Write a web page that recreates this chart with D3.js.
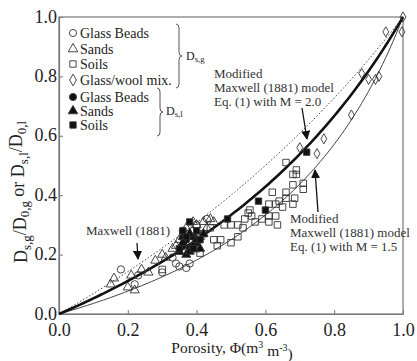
<!DOCTYPE html>
<html>
<head>
<meta charset="utf-8">
<script src="https://cdn.jsdelivr.net/npm/d3@7"></script>
<style>
  body { margin: 0; background: #fff; }
</style>
</head>
<body>
<div id="chart"></div>
<script>
// ---- data ----
var xTicks = [0, 0.2, 0.4, 0.6, 0.8, 1.0];
var yTicks = [0, 0.2, 0.4, 0.6, 0.8, 1.0];

// open symbols = Ds,g
var beadsGasPhi = [0.18, 0.22, 0.30, 0.34, 0.35, 0.37, 0.38, 0.36, 0.39, 0.43, 0.40, 0.23, 0.33];
var beadsGasD   = [0.15, 0.10, 0.14, 0.17, 0.16, 0.155, 0.17, 0.28, 0.28, 0.32, 0.30, 0.13, 0.19];

var sandsGasPhi = [0.15, 0.16, 0.20, 0.21, 0.22, 0.26, 0.28, 0.30, 0.31, 0.33, 0.35, 0.37, 0.39, 0.40, 0.42, 0.44, 0.45, 0.38, 0.36, 0.41, 0.34, 0.43, 0.24];
var sandsGasD   = [0.10, 0.12, 0.09, 0.13, 0.08, 0.14, 0.18, 0.20, 0.19, 0.22, 0.25, 0.29, 0.31, 0.30, 0.31, 0.32, 0.31, 0.27, 0.21, 0.26, 0.23, 0.29, 0.15];

var soilsGasPhi = [0.66, 0.68, 0.69, 0.69, 0.68, 0.71, 0.71, 0.62, 0.66, 0.66, 0.685, 0.64, 0.63, 0.68, 0.61, 0.65, 0.555, 0.54, 0.56, 0.57, 0.59, 0.61, 0.52, 0.535, 0.48, 0.50, 0.61, 0.635, 0.52, 0.46, 0.63, 0.50, 0.55, 0.47, 0.41, 0.30, 0.38, 0.40, 0.42, 0.44, 0.36, 0.45];
var soilsGasD   = [0.51, 0.47, 0.485, 0.47, 0.435, 0.44, 0.42, 0.41, 0.41, 0.39, 0.39, 0.38, 0.37, 0.37, 0.37, 0.36, 0.35, 0.32, 0.33, 0.31, 0.32, 0.33, 0.30, 0.29, 0.30, 0.30, 0.31, 0.30, 0.26, 0.23, 0.33, 0.24, 0.34, 0.25, 0.205, 0.15, 0.24, 0.22, 0.27, 0.29, 0.26, 0.25];

var woolGasPhi = [0.70, 0.75, 0.77, 0.85, 0.88, 0.90, 0.92, 0.93, 0.95, 0.997, 1.0];
var woolGasD   = [0.56, 0.54, 0.59, 0.67, 0.81, 0.79, 0.79, 0.80, 0.95, 0.95, 1.0];

// filled symbols = Ds,l
var beadsLiqPhi = [0.37, 0.38, 0.39, 0.36, 0.40];
var beadsLiqD   = [0.25, 0.22, 0.26, 0.23, 0.24];

var sandsLiqPhi = [0.35, 0.36, 0.37, 0.38, 0.39, 0.40, 0.41, 0.38, 0.36, 0.42];
var sandsLiqD   = [0.21, 0.24, 0.20, 0.27, 0.23, 0.25, 0.22, 0.21, 0.26, 0.27];

var soilsLiqPhi = [0.38, 0.35, 0.72, 0.58, 0.60, 0.49, 0.37, 0.40, 0.39, 0.41, 0.36];
var soilsLiqD   = [0.31, 0.22, 0.545, 0.38, 0.35, 0.32, 0.26, 0.28, 0.22, 0.25, 0.28];

// ---- layout ----
var W = 417, H = 361;
var FONT = "'Liberation Serif'";
var margin = { top: 17, right: 14, bottom: 47, left: 59 };
var width = W - margin.left - margin.right,
    height = H - margin.top - margin.bottom;

var root = d3.select('#chart').append('svg')
  .attr('width', W).attr('height', H);
var svg = root.append('g')
  .attr('transform', 'translate(' + margin.left + ',' + margin.top + ')');

var x = d3.scaleLinear().domain([0, 1]).range([0, width]);
var y = d3.scaleLinear().domain([0, 1]).range([height, 0]);

// frame
svg.append('rect')
  .attr('width', width).attr('height', height)
  .attr('fill', 'none').attr('stroke', '#777').attr('stroke-width', 1.2);

// axes, inward ticks
var xAxis = svg.append('g')
  .attr('transform', 'translate(0,' + height + ')')
  .call(d3.axisBottom(x).tickValues(xTicks).tickFormat(d3.format('.1f')).tickSizeInner(-4).tickSizeOuter(0).tickPadding(9));
var yAxis = svg.append('g')
  .call(d3.axisLeft(y).tickValues(yTicks).tickFormat(d3.format('.1f')).tickSizeInner(-4).tickSizeOuter(0).tickPadding(2));
[xAxis, yAxis].forEach(function (a) {
  a.attr('font-family', null).attr('font-size', null);
  a.select('.domain').attr('stroke', '#777').attr('stroke-width', 1.2);
  a.selectAll('.tick line').attr('stroke', '#777');
  a.selectAll('.tick text').attr('fill', '#222').style('font-family', FONT).style('font-size', '18px');
});
yAxis.selectAll('.tick text').attr('dy', '0.28em');

// model curves
var phiGrid = d3.range(0, 1.0001, 0.01);
var maxwell = function (p) { return 2 * p / (3 - p); };
var modM = function (M) { return function (p) { return (M - 1) * p / (M - p); }; };

var line = function (f) {
  return d3.line().x(function (p) { return x(p); }).y(function (p) { return y(f(p)); })(phiGrid);
};
svg.append('path').attr('d', line(maxwell))
  .attr('fill', 'none').attr('stroke', '#444').attr('stroke-width', 1).attr('stroke-dasharray', '1.5,2');
svg.append('path').attr('d', line(modM(1.5)))
  .attr('fill', 'none').attr('stroke', '#444').attr('stroke-width', 1);
svg.append('path').attr('d', line(modM(2.0)))
  .attr('fill', 'none').attr('stroke', '#111').attr('stroke-width', 2.6);

// points
function zip(px, py) { return px.map(function (p, i) { return [p, py[i]]; }); }
var series = [
  { pts: zip(soilsGasPhi, soilsGasD), sym: d3.symbolSquare, size: 42, fill: 'none' },
  { pts: zip(beadsGasPhi, beadsGasD), sym: d3.symbolCircle, size: 42, fill: 'none' },
  { pts: zip(sandsGasPhi, sandsGasD), sym: d3.symbolTriangle, size: 36, fill: 'none' },
  { pts: zip(woolGasPhi, woolGasD), sym: d3.symbolDiamond, size: 30, fill: 'none' },
  { pts: zip(beadsLiqPhi, beadsLiqD), sym: d3.symbolCircle, size: 40, fill: '#111' },
  { pts: zip(sandsLiqPhi, sandsLiqD), sym: d3.symbolTriangle, size: 36, fill: '#111' },
  { pts: zip(soilsLiqPhi, soilsLiqD), sym: d3.symbolSquare, size: 40, fill: '#111' }
];
series.forEach(function (s) {
  svg.selectAll(null).data(s.pts).enter().append('path')
    .attr('transform', function (d) { return 'translate(' + x(d[0]) + ',' + y(d[1]) + ')'; })
    .attr('d', d3.symbol().type(s.sym).size(s.size))
    .attr('fill', s.fill).attr('stroke', '#333').attr('stroke-width', 0.9);
});

// helper for serif text
function txt(xp, yp, size) {
  return root.append('text').attr('x', xp).attr('y', yp)
    .style('font-family', FONT).style('font-size', size + 'px').attr('fill', '#222');
}

// legend
var legend = [
  { t: 'Glass Beads', sym: d3.symbolCircle, fill: 'none', y: 33 },
  { t: 'Sands', sym: d3.symbolTriangle, fill: 'none', y: 49 },
  { t: 'Soils', sym: d3.symbolSquare, fill: 'none', y: 64 },
  { t: 'Glass/wool mix.', sym: d3.symbolDiamond, fill: 'none', y: 80 },
  { t: 'Glass Beads', sym: d3.symbolCircle, fill: '#111', y: 97 },
  { t: 'Sands', sym: d3.symbolTriangle, fill: '#111', y: 111 },
  { t: 'Soils', sym: d3.symbolSquare, fill: '#111', y: 125 }
];
legend.forEach(function (l) {
  root.append('path')
    .attr('transform', 'translate(73,' + l.y + ')')
    .attr('d', d3.symbol().type(l.sym).size(40))
    .attr('fill', l.fill).attr('stroke', '#333').attr('stroke-width', 0.9);
  txt(80, l.y + 4.5, 14).text(l.t);
});

// braces
function brace(xb, y0, y1) {
  var ym = (y0 + y1) / 2;
  return 'M' + xb + ',' + y0 + ' Q' + (xb + 3) + ',' + y0 + ' ' + (xb + 3) + ',' + (y0 + 4) +
    ' L' + (xb + 3) + ',' + (ym - 4) + ' Q' + (xb + 3) + ',' + ym + ' ' + (xb + 6) + ',' + ym +
    ' Q' + (xb + 3) + ',' + ym + ' ' + (xb + 3) + ',' + (ym + 4) +
    ' L' + (xb + 3) + ',' + (y1 - 4) + ' Q' + (xb + 3) + ',' + y1 + ' ' + xb + ',' + y1;
}
root.append('path').attr('d', brace(176, 24, 88)).attr('fill', 'none').attr('stroke', '#555').attr('stroke-width', 1);
root.append('path').attr('d', brace(157, 88, 136)).attr('fill', 'none').attr('stroke', '#555').attr('stroke-width', 1);

function subLabel(sel, parts, size) {
  parts.forEach(function (p) {
    var ts = sel.append('tspan').text(p[0]).style('font-family', FONT);
    if (p[1]) ts.attr('dy', p[1]);
    if (p[2]) ts.style('font-size', size * 0.72 + 'px');
  });
}
subLabel(txt(186, 60, 12), [['D'], ['s,g', '0.25em', 1]], 12);
subLabel(txt(166, 115, 12), [['D'], ['s,l', '0.25em', 1]], 12);

// annotations
function multi(xp, yp, lines, size) {
  var t = txt(0, 0, size).attr('fill', '#333');
  lines.forEach(function (s, i) {
    t.append('tspan').attr('x', xp).attr('y', yp + i * 14).style('font-family', FONT).text(s);
  });
}
multi(214, 78, ['Modified', 'Maxwell (1881) model', 'Eq. (1) with M = 2.0'], 13);
multi(290, 223, ['Modified', 'Maxwell (1881) model', 'Eq. (1) with M = 1.5'], 13);
txt(86, 235, 13).attr('fill', '#333').text('Maxwell (1881)');

root.append('defs').append('marker')
  .attr('id', 'ah').attr('viewBox', '0 0 10 10').attr('refX', 9).attr('refY', 5)
  .attr('markerWidth', 7).attr('markerHeight', 7).attr('orient', 'auto')
  .append('path').attr('d', 'M0,0 L10,5 L0,10 z').attr('fill', '#111');
function arrow(x1, y1, x2, y2) {
  root.append('line').attr('x1', x1).attr('y1', y1).attr('x2', x2).attr('y2', y2)
    .attr('stroke', '#111').attr('stroke-width', 1.3).attr('marker-end', 'url(#ah)');
}
arrow(302, 108, 307, 139);
arrow(137, 243, 138, 259);
arrow(318, 212, 315, 170);

// axis titles
var xl = txt(232, 353, 15.5).attr('text-anchor', 'middle');
xl.append('tspan').text('Porosity, \u03A6(m');
xl.append('tspan').text('3').style('font-size', '10px').attr('dy', '-0.5em');
xl.append('tspan').text(' m').attr('dy', '0.5em');
xl.append('tspan').text('-3').style('font-size', '10px').attr('dy', '-0.5em');
xl.append('tspan').text(')').attr('dy', '0.5em');
xl.selectAll('tspan').style('font-family', FONT);

var yl = txt(0, 0, 18).attr('transform', 'translate(27,192) rotate(-90)')
  .attr('text-anchor', 'middle');
subLabel(yl, [['D'], ['s,g', '0.3em', 1], ['/D', '-0.3em'], ['0,g', '0.3em', 1], [' or D', '-0.3em'], ['s,l', '0.3em', 1], ['/D', '-0.3em'], ['0,l', '0.3em', 1]], 18);
</script>
</body>
</html>
